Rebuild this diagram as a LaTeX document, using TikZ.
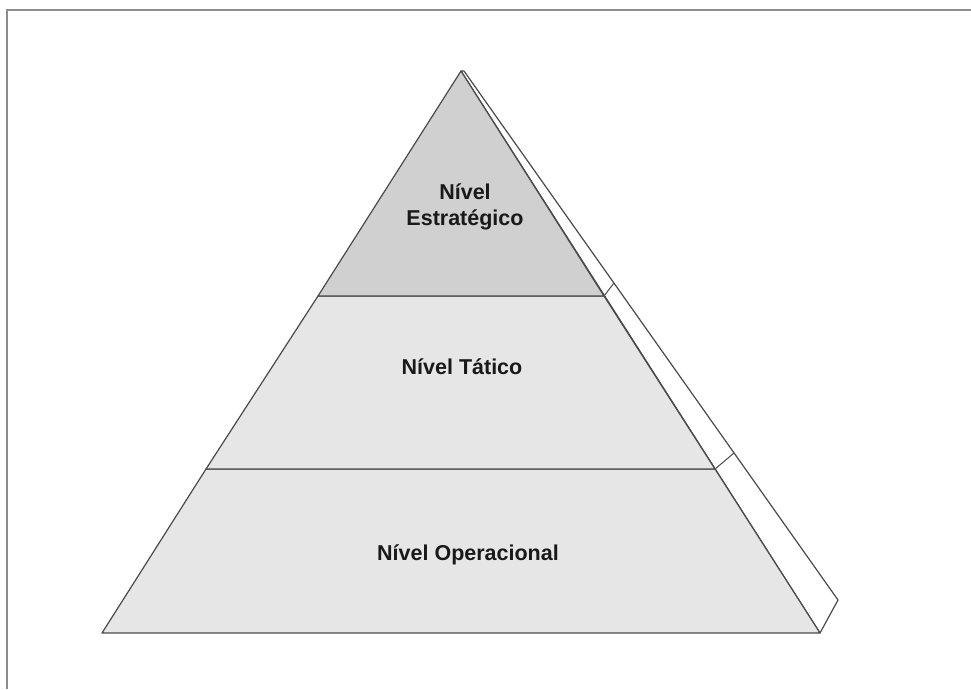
\documentclass[tikz,border=0pt]{standalone}
\usepackage{fontspec}
\setmainfont{Liberation Sans}
\definecolor{edge}{HTML}{4A4A4A}
\definecolor{frame}{HTML}{8C8C8C}
\definecolor{topfill}{HTML}{D0D0D0}
\definecolor{lowfill}{HTML}{E6E6E6}
\tikzset{
  tier/.style={draw=edge, line width=1.2pt, line join=round},
  sideface/.style={draw=edge, fill=white, line width=1.2pt, line join=round},
  label/.style={font=\fontsize{21.5}{26}\selectfont\bfseries, align=center, text=black!90}
}
\begin{document}
\begin{tikzpicture}[x=1pt, y=-1pt]
  \useasboundingbox (0,0) rectangle (971,689);
  % outer frame (top and left edges)
  \draw[frame, line width=2pt] (6.5,689) -- (6.5,9.5) -- (971,9.5);

  % pyramid corners
  \coordinate (apex) at (461,71);
  \coordinate (bl) at (102,633);
  \coordinate (br) at (820,633);
  \coordinate (l1) at (318,296);
  \coordinate (r1) at (604,296);
  \coordinate (l2) at (206,469);
  \coordinate (r2) at (715,469);
  % back edge of the side face
  \coordinate (backtop) at (464,71);
  \coordinate (backbot) at (838,600);
  \coordinate (s1) at (614,283);
  \coordinate (s2) at (734,453);

  % side face
  \draw[sideface] (apex) -- (backtop) -- (backbot) -- (br) -- cycle;
  \draw[edge, line width=1pt] (r1) -- (s1);
  \draw[edge, line width=1pt] (r2) -- (s2);

  % tiers
  \draw[tier, fill=lowfill] (l2) -- (r2) -- (br) -- (bl) -- cycle;
  \draw[tier, fill=lowfill] (l1) -- (r1) -- (r2) -- (l2) -- cycle;
  \draw[tier, fill=topfill] (apex) -- (r1) -- (l1) -- cycle;

  % labels
  \node[label] (estr) at (465,207) {Nível\\Estratégico};
  \node[label] (tat) at (462,367) {Nível Tático};
  \node[label] (oper) at (468,555) {Nível Operacional};
\end{tikzpicture}
\end{document}
